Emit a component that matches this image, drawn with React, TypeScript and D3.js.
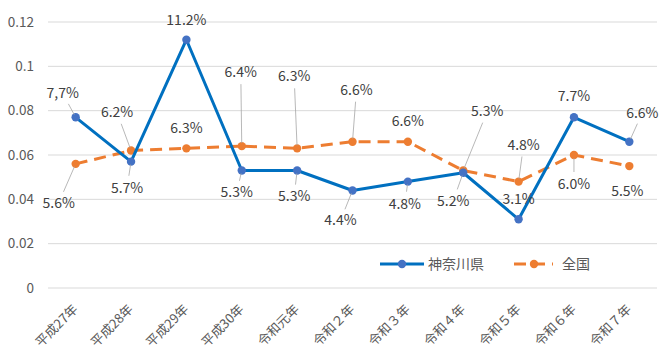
import React from 'react';
import * as d3 from 'd3';

// 年度ラベル
const years = ['平成27年', '平成28年', '平成29年', '平成30年', '令和元年', '令和２年', '令和３年', '令和４年', '令和５年', '令和６年', '令和７年'];
// 神奈川県
const kanagawa = [0.077, 0.057, 0.112, 0.053, 0.053, 0.044, 0.048, 0.052, 0.031, 0.077, 0.066];
// 全国
const national = [0.056, 0.062, 0.063, 0.064, 0.063, 0.066, 0.066, 0.053, 0.048, 0.060, 0.055];
const yTicks = [0, 0.02, 0.04, 0.06, 0.08, 0.1, 0.12];

// label offsets from each point [dx, dy, leader line?]
const kanagawaLabelOffsets: [number, number, boolean][] = [
  [-13, -24, true], [-4, 26, true], [0, -20, false], [-5, 22, true], [-3, 26, true], [-12, 30, true],
  [-3, 22, true], [-10, 28, true], [0, -20, false], [0, -21, false], [13, -29, true],
];
const nationalLabelOffsets: [number, number, boolean][] = [
  [-17, 39, true], [-14, -38, true], [0, -20, false], [-1, -74, true], [-3, -72, true], [4, -52, true],
  [0, -21, false], [24, -59, true], [5, -37, true], [0, 29, true], [-2, 25, false],
];

const W = 670;
const H = 360;
const margin = { left: 48, right: 13, top: 22, bottom: 72 };
const font = '"Noto Sans CJK JP", "Noto Sans", sans-serif';

const fmt = (v: number, i: number, series: string) =>
  series === 'k' && i === 0 ? (v * 100).toFixed(1).replace('.', ',') + '%' : (v * 100).toFixed(1) + '%';

export default function App() {
  const x = d3.scaleBand<string>().domain(years).range([margin.left, W - margin.right]);
  const y = d3.scaleLinear().domain([0, 0.12]).range([H - margin.bottom, margin.top]);
  const cx = (i: number) => (x(years[i]) as number) + x.bandwidth() / 2;

  const line = d3.line<number>().x((_, i) => cx(i)).y(d => y(d));

  const labels = (vals: number[], offs: [number, number, boolean][], key: string) =>
    vals.map((v, i) => {
      const px = cx(i);
      const py = y(v);
      const [dx, dy, leader] = offs[i];
      const lx = px + dx;
      const ly = py + dy;
      // leader runs from the label's edge toward the point
      const len = Math.hypot(dx, dy);
      const ux = -dx / len;
      const uy = -dy / len;
      const startPad = 12;
      return (
        <g key={key + i}>
          {leader && (
            <line
              x1={lx + ux * startPad}
              y1={ly + uy * startPad}
              x2={px - ux * 3}
              y2={py - uy * 3}
              stroke="#a6a6a6"
              strokeWidth={0.8}
            />
          )}
          <text x={lx} y={ly} dy="0.35em" textAnchor="middle" fontSize={14} fill="#404040" fontFamily={font}>
            {fmt(v, i, key)}
          </text>
        </g>
      );
    });

  return (
    <svg width={W} height={H} style={{ position: 'absolute', left: 0, top: 0, background: '#fff' }}>
      {yTicks.map(t => (
        <g key={t}>
          <line x1={margin.left} x2={W - margin.right} y1={y(t)} y2={y(t)} stroke="#d9d9d9" strokeWidth={1} />
          <text x={34} y={y(t)} dy="0.35em" textAnchor="end" fontSize={13.5} fill="#595959" fontFamily={font}>
            {String(t)}
          </text>
        </g>
      ))}

      {years.map((yr, i) => (
        <text
          key={yr}
          transform={`translate(${cx(i) + 3},${H - margin.bottom + 22}) rotate(-45)`}
          textAnchor="end"
          fontSize={13}
          fill="#595959"
          fontFamily={font}
        >
          {yr}
        </text>
      ))}

      <path d={line(national) || ''} fill="none" stroke="#ed7d31" strokeWidth={3} strokeDasharray="12,7" />
      {national.map((v, i) => (
        <circle key={'n' + i} cx={cx(i)} cy={y(v)} r={4.2} fill="#ed7d31" />
      ))}

      <path d={line(kanagawa) || ''} fill="none" stroke="#0070c0" strokeWidth={3} strokeLinejoin="round" />
      {kanagawa.map((v, i) => (
        <circle key={'k' + i} cx={cx(i)} cy={y(v)} r={4.2} fill="#4472c4" />
      ))}

      {labels(kanagawa, kanagawaLabelOffsets, 'k')}
      {labels(national, nationalLabelOffsets, 'n')}

      {/* legend */}
      <g fontFamily={font} fontSize={14} fill="#595959">
        <line x1={380} x2={424} y1={264} y2={264} stroke="#0070c0" strokeWidth={3} />
        <circle cx={402} cy={264} r={4.2} fill="#4472c4" />
        <text x={428} y={264} dy="0.35em">神奈川県</text>
        <line x1={514} x2={553} y1={264} y2={264} stroke="#ed7d31" strokeWidth={3} strokeDasharray="12,7" />
        <circle cx={534} cy={264} r={4.2} fill="#ed7d31" />
        <text x={562} y={264} dy="0.35em">全国</text>
      </g>
    </svg>
  );
}
